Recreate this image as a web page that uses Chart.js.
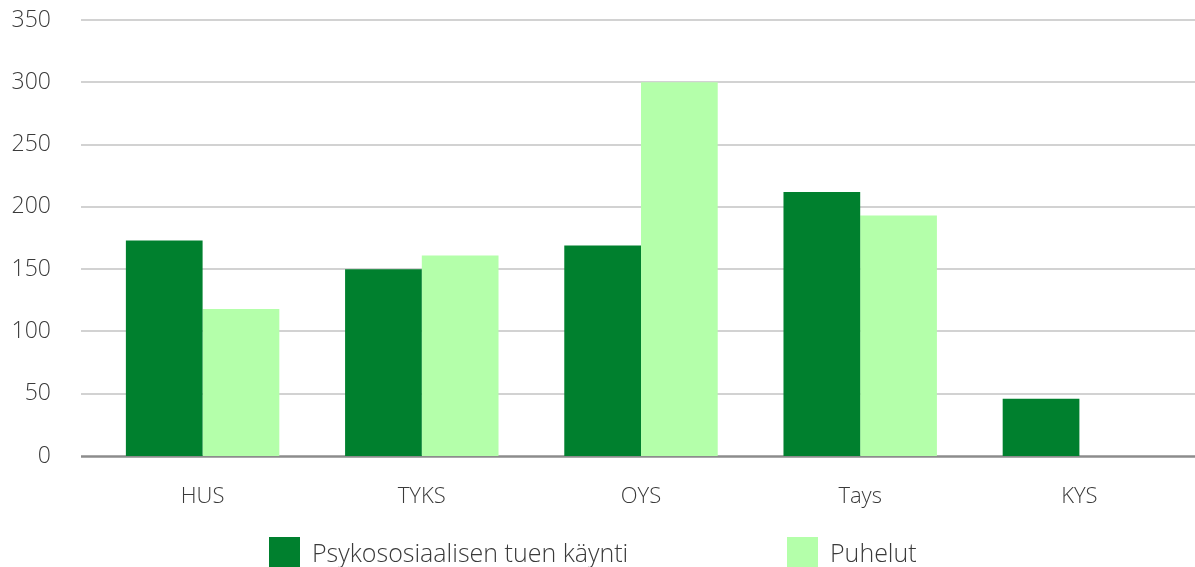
<!DOCTYPE html>
<html>
<head>
<meta charset="utf-8">
<script src="https://cdn.jsdelivr.net/npm/chart.js@4"></script>
<style>
  html, body { margin: 0; padding: 0; background: #fff; }
  #wrap { position: relative; width: 1195px; height: 567px; }
  #legend { position: absolute; left: 0; top: 537px; width: 1195px; height: 30px;
    font-family: "Open Sans", sans-serif; font-weight: 300; font-size: 25px; color: #3a3a3a; }
  .item { position: absolute; top: 0; display: flex; align-items: center; height: 30px; }
  .box { width: 31px; height: 30px; margin-right: 12px; }
</style>
</head>
<body>
<div id="wrap">
  <canvas id="chart" width="1195" height="567"></canvas>
  <div id="legend"></div>
</div>
<script>
const categories = ['HUS', 'TYKS', 'OYS', 'Tays', 'KYS'];
const visits = [173, 150, 169, 212, 46];
const calls = [118, 161, 300, 193, 0];
const seriesNames = ['Psykososiaalisen tuen käynti', 'Puhelut'];
const seriesColors = ['#00802e', '#b4ffaa'];
const legendLeft = [269, 787];

const textColor = '#3a3a3a';
const fontFamily = '"Open Sans", sans-serif';

// horizontal grid lines reach a bit past the plot on both sides
const gridPlugin = {
    id: 'wideGrid',
    beforeDatasetsDraw(chart) {
        const ctx = chart.ctx;
        const y = chart.scales.y;
        ctx.save();
        y.ticks.forEach(t => {
            const py = Math.round(y.getPixelForValue(t.value));
            const zero = t.value === 0;
            ctx.strokeStyle = zero ? '#8c8c8c' : '#a6a6a6';
            ctx.lineWidth = zero ? 2.5 : 1.2;
            ctx.beginPath();
            ctx.moveTo(81, py + (zero ? 0.5 : 0));
            ctx.lineTo(1195, py + (zero ? 0.5 : 0));
            ctx.stroke();
        });
        ctx.restore();
    }
};

const data = {
    labels: categories,
    datasets: [{
        label: seriesNames[0],
        backgroundColor: seriesColors[0],
        data: visits
    }, {
        label: seriesNames[1],
        backgroundColor: seriesColors[1],
        data: calls
    }]
};

const config = {
    type: 'bar',
    data,
    options: {
        responsive: false,
        animation: false,
        layout: { padding: { top: 20, right: 6, left: 0, bottom: 0 } },
        datasets: {
            bar: { categoryPercentage: 0.7, barPercentage: 1.0 }
        },
        scales: {
            x: {
                grid: { display: false },
                border: { display: false },
                ticks: { color: textColor, padding: 20, font: { family: fontFamily, size: 22, weight: 300 } },
                afterFit: s => { s.height = 111; }
            },
            y: {
                min: 0,
                max: 350,
                grid: { display: false },
                border: { display: false },
                ticks: { stepSize: 50, color: textColor, padding: 34, font: { family: fontFamily, size: 23, weight: 300 } },
                afterFit: s => {
                    s.width = 93;
                    // tick padding should not push the plot down
                    s.paddingTop = 0;
                    s.paddingBottom = 0;
                }
            }
        },
        plugins: {
            legend: { display: false },
            tooltip: { enabled: false }
        }
    },
    plugins: [gridPlugin]
};

const chart = new Chart(document.getElementById('chart'), config);

// legend below the chart, built from the datasets
const legend = document.getElementById('legend');
chart.data.datasets.forEach((ds, i) => {
    const item = document.createElement('div');
    item.className = 'item';
    item.style.left = legendLeft[i] + 'px';
    const box = document.createElement('div');
    box.className = 'box';
    box.style.background = ds.backgroundColor;
    const txt = document.createElement('span');
    txt.textContent = ds.label;
    item.appendChild(box);
    item.appendChild(txt);
    legend.appendChild(item);
});
</script>
</body>
</html>
